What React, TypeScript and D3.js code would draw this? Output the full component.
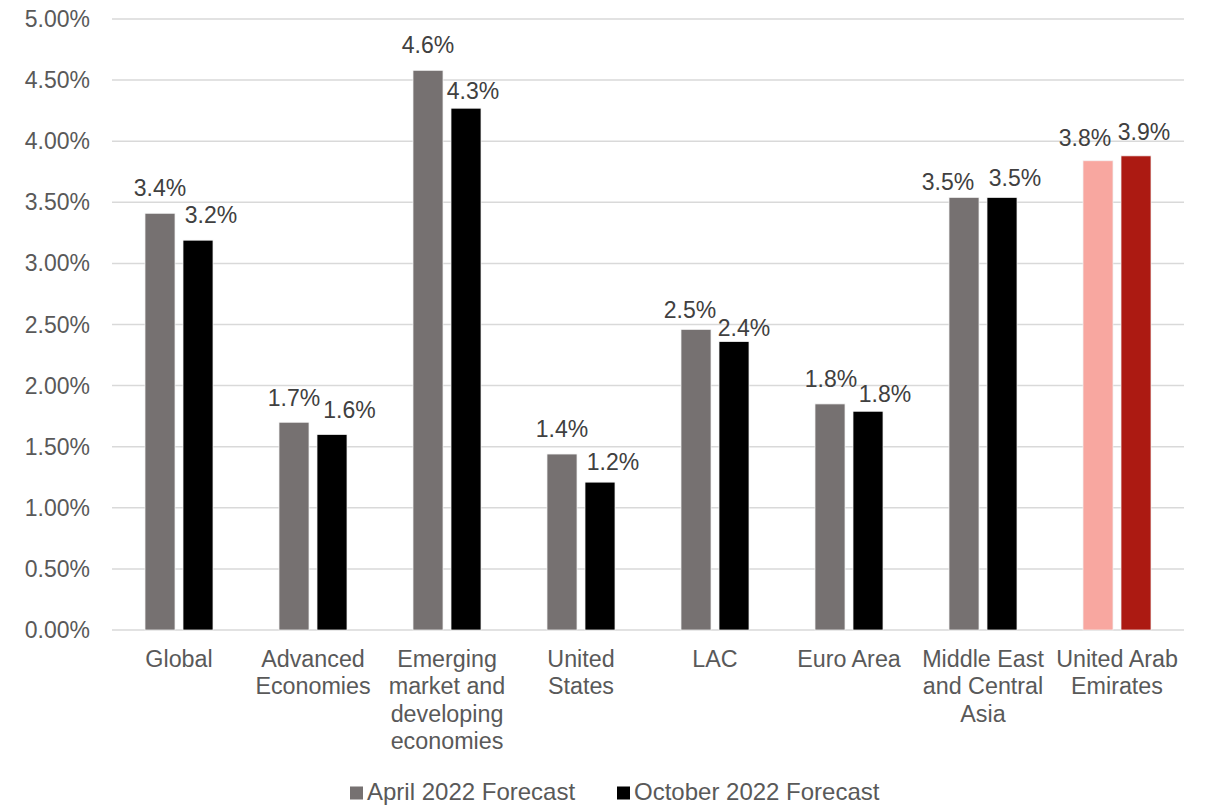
import React, { useRef, useEffect } from 'react';
import * as d3 from 'd3';

const categories = [
  ['Global'],
  ['Advanced', 'Economies'],
  ['Emerging', 'market and', 'developing', 'economies'],
  ['United', 'States'],
  ['LAC'],
  ['Euro Area'],
  ['Middle East', 'and Central', 'Asia'],
  ['United Arab', 'Emirates'],
];
const seriesNames = ['April 2022 Forecast', 'October 2022 Forecast'];
const april = [0.0341, 0.0170, 0.0458, 0.0144, 0.0246, 0.0185, 0.0354, 0.0384];
const october = [0.0319, 0.0160, 0.0427, 0.0121, 0.0236, 0.0179, 0.0354, 0.0388];
const yTicks = [0, 0.005, 0.01, 0.015, 0.02, 0.025, 0.03, 0.035, 0.04, 0.045, 0.05];

// label nudges (Excel shifts labels to avoid collisions): [dx, gap above bar]
const labelNudge = [
  [[0, 17.5], [0, 16], [0, 17], [0, 17], [-6, 11], [1, 17], [-16, 7], [-13, 15]],
  [[13, 17], [17.5, 16], [7, 9], [13, 12], [10, 6], [17, 9], [13, 11], [8, 16]],
];

const seriesColors = ['#767171', '#000000'];
const highlightColors = ['#F8A7A0', '#AC1A12'];
const highlightIndex = 7;

const W = 1211;
const H = 805;
const margin = { top: 19, right: 27, bottom: 175, left: 112 };
const FONT = '"Liberation Sans", Arial, sans-serif';

const App: React.FC = () => {
  const svgRef = useRef<SVGSVGElement | null>(null);

  useEffect(() => {
    if (!svgRef.current) return;
    const svg = d3.select(svgRef.current);
    svg.selectAll('*').remove();

    const keys = categories.map(c => c.join(' '));
    const x0 = d3.scaleBand<string>()
      .domain(keys)
      .range([margin.left, W - margin.right])
      .padding(0);
    const groupW = 68;
    const x1 = d3.scaleBand<number>()
      .domain([0, 1])
      .range([0, groupW])
      .paddingInner(2 - groupW / 38)
      .paddingOuter(0);
    const y = d3.scaleLinear()
      .domain([0, 0.05])
      .range([H - margin.bottom, margin.top]);

    const g = svg.append('g').style('font-family', FONT);

    // gridlines
    g.append('g')
      .selectAll('line')
      .data(yTicks)
      .join('line')
      .attr('x1', margin.left)
      .attr('x2', W - margin.right)
      .attr('y1', d => y(d))
      .attr('y2', d => y(d))
      .attr('stroke', '#d9d9d9')
      .attr('stroke-width', 1.5);

    // y tick labels
    g.append('g')
      .selectAll('text')
      .data(yTicks)
      .join('text')
      .attr('x', 90)
      .attr('y', d => y(d))
      .attr('dy', '0.35em')
      .attr('text-anchor', 'end')
      .attr('fill', '#595959')
      .style('font-size', '23px')
      .text(d => d3.format('.2%')(d));

    const rows = keys.map((k, i) => [april[i], october[i]].map((v, s) => ({ k, i, s, v })));
    const groups = g.append('g')
      .selectAll('g')
      .data(rows)
      .join('g')
      .attr('transform', d => `translate(${x0(d[0].k)! + (x0.bandwidth() - groupW) / 2},0)`);

    groups.selectAll('rect')
      .data(d => d)
      .join('rect')
      .attr('x', d => x1(d.s)!)
      .attr('width', x1.bandwidth())
      .attr('y', d => y(d.v))
      .attr('height', d => y(0) - y(d.v))
      .attr('fill', d => (d.i === highlightIndex ? highlightColors : seriesColors)[d.s])
      .attr('stroke', '#f2f2f2')
      .attr('stroke-width', 0.75);

    groups.selectAll('text')
      .data(d => d)
      .join('text')
      .attr('x', d => x1(d.s)! + x1.bandwidth() / 2 + labelNudge[d.s][d.i][0])
      .attr('y', d => y(d.v) - labelNudge[d.s][d.i][1])
      .attr('text-anchor', 'middle')
      .attr('fill', '#404040')
      .style('font-size', '23px')
      .text(d => d3.format('.1%')(d.v));

    // category labels
    const cat = g.append('g')
      .selectAll('text')
      .data(categories)
      .join('text')
      .attr('text-anchor', 'middle')
      .attr('fill', '#595959')
      .style('font-size', '23.3px')
      .attr('x', (d, i) => x0(keys[i])! + x0.bandwidth() / 2)
      .attr('y', 667);
    cat.selectAll('tspan')
      .data(d => d)
      .join('tspan')
      .attr('x', function () { return (this.parentNode as SVGTextElement).getAttribute('x'); })
      .attr('dy', (d, j) => (j === 0 ? 0 : 27.3))
      .text(d => d);

    // legend
    const legendX = [350, 617];
    const leg = g.append('g')
      .selectAll('g')
      .data(seriesNames)
      .join('g')
      .attr('transform', (d, i) => `translate(${legendX[i]},0)`);
    leg.append('rect')
      .attr('x', 0)
      .attr('y', 786.5)
      .attr('width', 13)
      .attr('height', 13)
      .attr('fill', (d, i) => seriesColors[i]);
    leg.append('text')
      .attr('x', 17)
      .attr('y', 800)
      .attr('fill', '#595959')
      .style('font-size', '24px')
      .text(d => d);
  }, []);

  return (
    <svg ref={svgRef} width={W} height={H} style={{ position: 'absolute', left: 0, top: 0, background: '#fff' }} />
  );
};

export default App;
